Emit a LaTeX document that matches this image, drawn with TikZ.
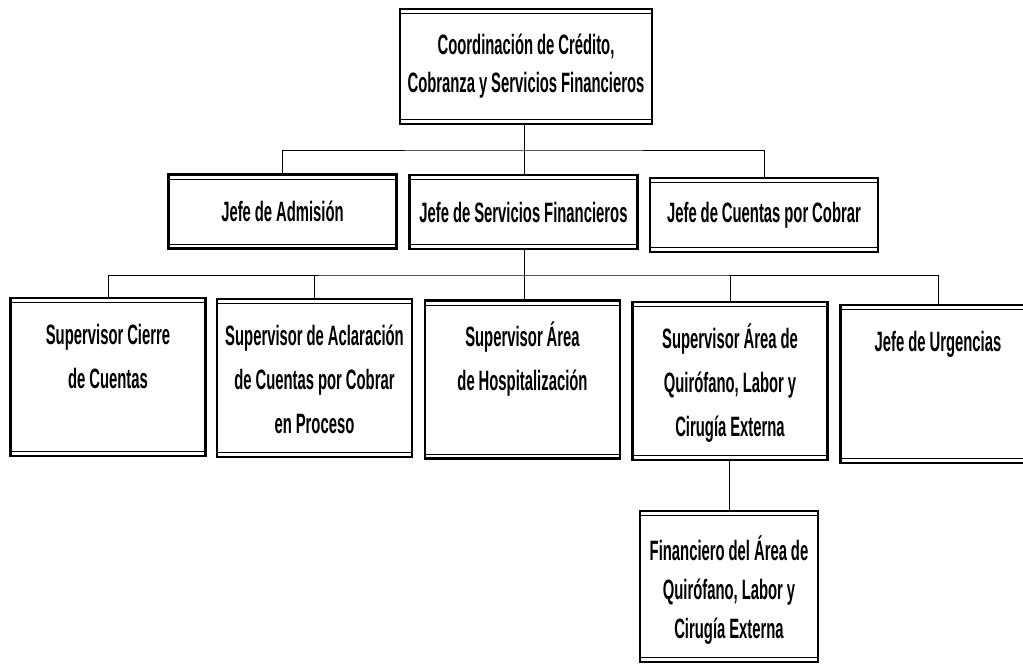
\documentclass[tikz,border=0pt]{standalone}
\usepackage{fontspec}
\setmainfont{Liberation Sans}[FakeStretch=0.53, WordSpace=0.95]
\tikzset{
    caja/.style={draw, line width=2.8pt, align=flush center, inner xsep=0pt, inner ysep=0pt,
        font=\bfseries\fontsize{28}{38}\selectfont,
        path picture={\draw[line width=0.8pt]
            ([yshift=-4.5pt]path picture bounding box.north west) -- ([yshift=-4.5pt]path picture bounding box.north east)
            ([yshift=4.5pt]path picture bounding box.south west) -- ([yshift=4.5pt]path picture bounding box.south east);}}, % 双线边框
    jefe/.style={caja, minimum width=228pt, minimum height=74pt}, % 第二层的框
    supervisor/.style={caja, text width=195pt, text height=46pt, text depth=112pt,
        font=\bfseries\fontsize{28}{44}\selectfont}, % 第三层的框, 文字靠上
    enlace/.style={line width=1pt} % 连接线
}
\begin{document}
\begin{tikzpicture}[x=1pt, y=-1pt]
    \def\ancho{1023} \def\alto{670}
    \useasboundingbox (0,0) rectangle (\ancho,\alto);

    \node[caja, minimum width=252pt, minimum height=115pt] (coord) at (526,66.5) {Coordinación de Crédito,\\Cobranza y Servicios Financieros};

    \node[jefe] (admision) at (282.5,211.5) {Jefe de Admisión};
    \node[jefe] (servfin) at (523.5,212) {Jefe de Servicios Financieros};
    \node[jefe] (cuentas) at (764,215) {Jefe de Cuentas por Cobrar};

    \node[supervisor] (cierre) at (108,377) {Supervisor Cierre\\de Cuentas};
    \node[supervisor] (aclaracion) at (314.5,378) {Supervisor de Aclaración\\de Cuentas por Cobrar\\en Proceso};
    \node[supervisor] (hospital) at (522.5,379.5) {Supervisor Área\\de Hospitalización};
    \node[supervisor] (quirofano) at (730,381) {Supervisor Área de\\Quirófano, Labor y\\Cirugía Externa};
    \node[supervisor] (urgencias) at (938,384) {Jefe de Urgencias};

    \node[supervisor, text width=178pt, text height=49pt, text depth=102pt,
        font=\bfseries\fontsize{28}{39}\selectfont] (financiero) at (729,586.5) {Financiero del Área de\\Quirófano, Labor y\\Cirugía Externa};

    \coordinate (bus1) at (524,150);
    \coordinate (bus2) at (524,275);
    \draw[enlace] (bus1 |- coord.south) -- (bus1);
    \draw[enlace] (admision.north) |- (bus1) -| (cuentas.north);
    \draw[enlace] (bus1) -- (bus1 |- servfin.north);
    \draw[enlace] (cierre.north) |- (bus2) -| (urgencias.north);
    \draw[enlace] (bus2 |- servfin.south) -- (bus2 |- hospital.north);
    \draw[enlace] (aclaracion.north) -- (aclaracion.north |- bus2);
    \draw[enlace] (quirofano.north) -- (quirofano.north |- bus2);
    \draw[enlace] (quirofano.south) -- (quirofano.south -| financiero.north) -- (financiero.north);
\end{tikzpicture}
\end{document}
